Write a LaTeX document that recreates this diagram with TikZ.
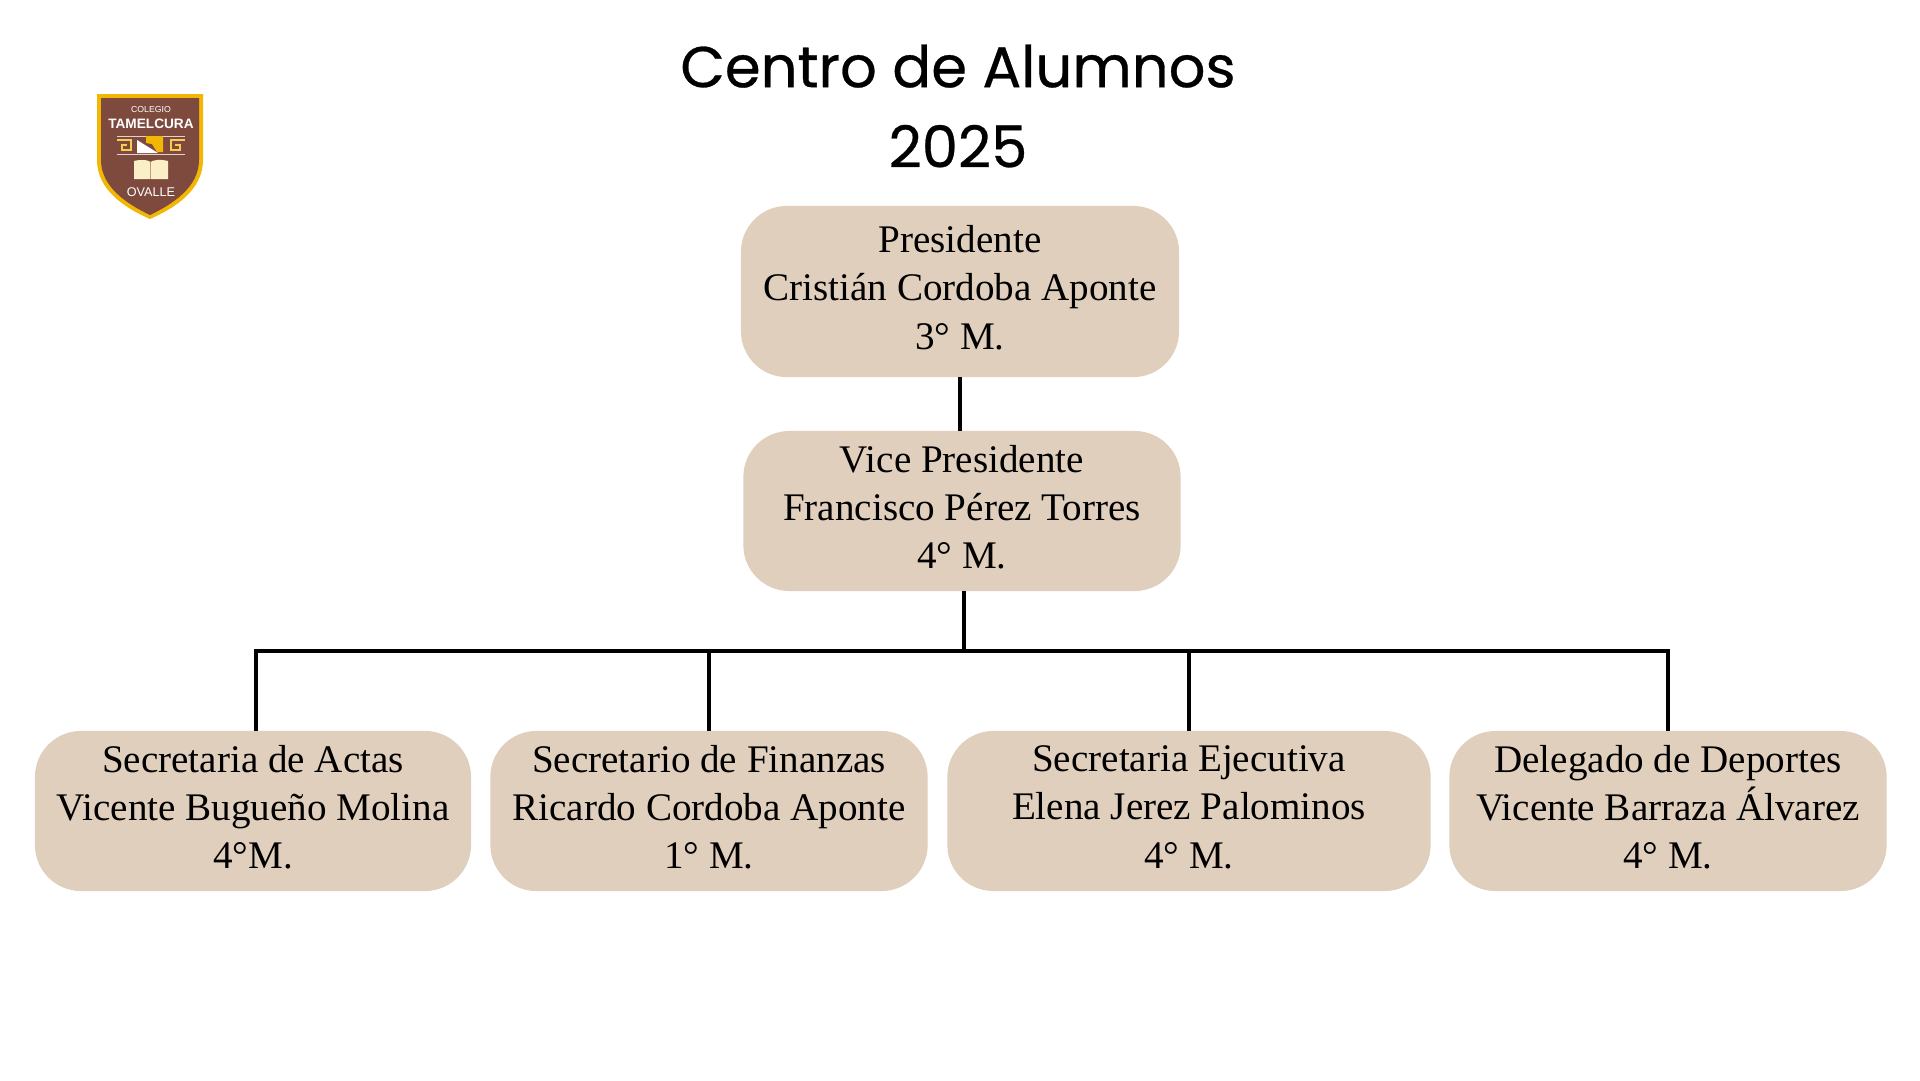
\documentclass[tikz,border=0pt]{standalone}
\usepackage{fontspec}
\setmainfont{Liberation Serif}
\newfontfamily\titlefont[FakeBold=.5]{Poppins}
\newfontfamily\logofont{Liberation Sans}
\definecolor{boxtan}{HTML}{E0CFBD}
\definecolor{shieldbrown}{HTML}{7F4A3E}
\definecolor{shieldgold}{HTML}{F2B705}
\definecolor{bookcream}{HTML}{FBEFC8}
\tikzset{
cargo/.style={fill=boxtan,rounded corners=1.15cm,inner sep=0pt,align=center,text depth=5.8pt,font=\fontsize{27.8}{34.3}\selectfont},
link/.style={line width=2.6pt},
titletext/.style={font=\titlefont\fontsize{41}{57}\selectfont,align=center},
}
\begin{document}
\begin{tikzpicture}[x=.025cm,y=-.025cm]
\useasboundingbox (0,0) rectangle (1920,1080);
\fill[white] (0,0) rectangle (1920,1080);
\node[titletext] (title) at (958,106){Centro de Alumnos\\2025};
% cargos
\node[cargo,minimum width=10.95cm,minimum height=4.28cm] (pres) at (960,291.5){Presidente\\Cristián Cordoba Aponte\\3° M.};
\node[cargo,minimum width=10.93cm,minimum height=4cm] (vice) at (962,511){Vice Presidente\\Francisco Pérez Torres\\4° M.};
\node[cargo,minimum width=10.9cm,minimum height=4cm] (actas) at (253,811){Secretaria de Actas\\Vicente Bugueño Molina\\4°M.};
\node[cargo,minimum width=10.93cm,minimum height=4cm] (finanzas) at (709,811){Secretario de Finanzas\\Ricardo Cordoba Aponte\\1° M.};
\node[cargo,minimum width=12.08cm,minimum height=4cm] (ejecutiva) at (1189,811){Secretaria Ejecutiva\\Elena Jerez Palominos\\4° M.};
\node[cargo,minimum width=10.93cm,minimum height=4cm] (deportes) at (1668,811){Delegado de Deportes\\Vicente Barraza Álvarez\\4° M.};
% lineas
\coordinate (busl) at (256,651);
\coordinate (busr) at (1668,651);
\coordinate (busm) at (964,651);
\coordinate (stem) at (960,0);
\draw[link] (stem|-pres.south)--(stem|-vice.north);
\draw[link] (vice.south-|busm)--(busm);
\draw[link,line cap=rect] (busl)--(busr);
\draw[link] (busl)--(busl|-actas.north);
\draw[link] (finanzas.north)--(finanzas.north|-busm);
\draw[link] (ejecutiva.north)--(ejecutiva.north|-busm);
\draw[link] (deportes.north)--(busr);
% escudo
\fill[shieldgold] (97,94)--(203,94)--(203,160) .. controls (203,190) and (175,208) .. (150,219) .. controls (125,208) and (97,190) .. (97,160)--cycle;
\fill[shieldbrown] (101,98)--(199,98)--(199,160) .. controls (199,187) and (173,204) .. (150,215) .. controls (127,204) and (101,187) .. (101,160)--cycle;
\node[white,font=\logofont\fontsize{6.2}{7}\selectfont] (colegio) at (151,109){COLEGIO};
\node[white,font=\logofont\bfseries\fontsize{9.7}{9}\selectfont] (tamelcura) at (151,124){TAMELCURA};
\draw[white!75!shieldbrown,line width=.5pt] (117,136)--(185,136) (117,154)--(185,154);
\draw[shieldgold!70!white,line width=1pt] (117,140)--(131,140)--(131,150)--(122,150)--(122,145)--(127,145);
\draw[shieldgold!70!white,line width=1pt] (185,140)--(171,140)--(171,150)--(180,150)--(180,145)--(175,145);
\fill[white] (137,140)--(137,153)--(158,153)--cycle;
\fill[shieldgold] (146,136)--(163,136)--(163,152)--(157,152)--(152,144)--(146,143)--cycle;
\fill[bookcream] (134,161) .. controls (142,159) and (148,160) .. (150.5,162) .. controls (153,160) and (160,159) .. (168,161)--(168,179)--(150.5,179)--(134,179)--cycle;
\draw[shieldbrown!50!bookcream,line width=.3pt] (150.5,162)--(150.5,179);
\node[white,font=\logofont\fontsize{9}{9}\selectfont] (ovalle) at (151,192){OVALLE};
\end{tikzpicture}
\end{document}
